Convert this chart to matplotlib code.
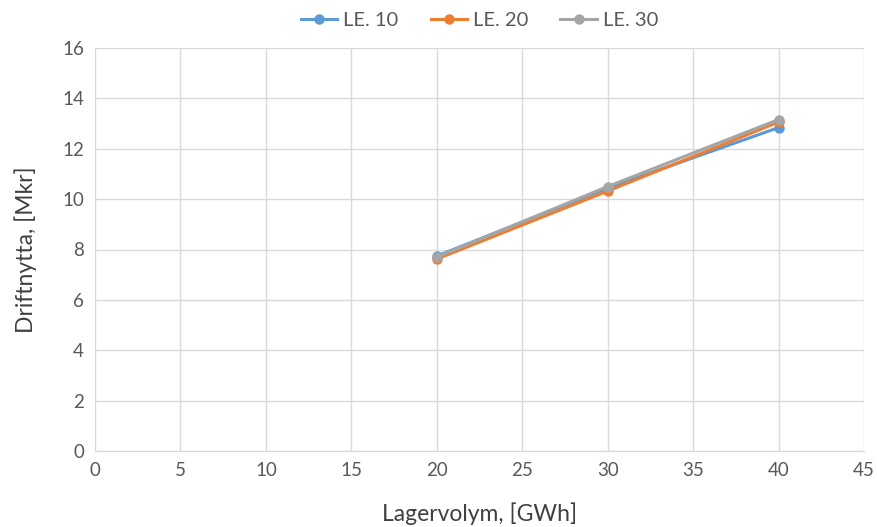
import matplotlib
matplotlib.use("Agg")
import matplotlib.pyplot as plt

plt.rcParams['font.family'] = ['Lato', 'DejaVu Sans']

lagervolym = [20, 30, 40]
le10 = [7.74, 10.44, 12.84]
le20 = [7.62, 10.32, 13.06]
le30 = [7.70, 10.50, 13.16]

series = [
    ("LE. 10", le10, "#5B9BD5"),
    ("LE. 20", le20, "#ED7D31"),
    ("LE. 30", le30, "#A5A5A5"),
]

fig = plt.figure(figsize=(8.77, 5.27), dpi=100)
ax = fig.add_axes([95 / 877, 1 - 451 / 527, (864 - 95) / 877, (451 - 48) / 527])

for name, vals, col in series:
    ax.plot(lagervolym, vals, color=col, lw=2.2, marker='o', ms=6.5, label=name)

ax.set_xlim(0, 45)
ax.set_ylim(0, 16)
ax.set_xticks(range(0, 46, 5))
ax.set_yticks(range(0, 17, 2))
ax.grid(True, color='#D9D9D9', lw=1)
ax.set_axisbelow(True)
for s in ['top', 'right', 'left']:
    ax.spines[s].set_visible(False)
ax.spines['bottom'].set_color('#D9D9D9')
ax.tick_params(length=0, labelsize=13.5, colors='#595959', pad=8)

ax.set_xlabel("Lagervolym, [GWh]", fontsize=16.5, color='#404040', labelpad=16.5)
ax.set_ylabel("Driftnytta, [Mkr]", fontsize=16.5, color='#404040', labelpad=18)

ax.legend(loc='center', bbox_to_anchor=(0.5, 1 + 28 / 403), ncol=3, frameon=False,
          fontsize=14.5, labelcolor='#595959', handlelength=1.8, columnspacing=1.6,
          handletextpad=0.3)

fig.savefig("out.png", dpi=100, facecolor='white')
